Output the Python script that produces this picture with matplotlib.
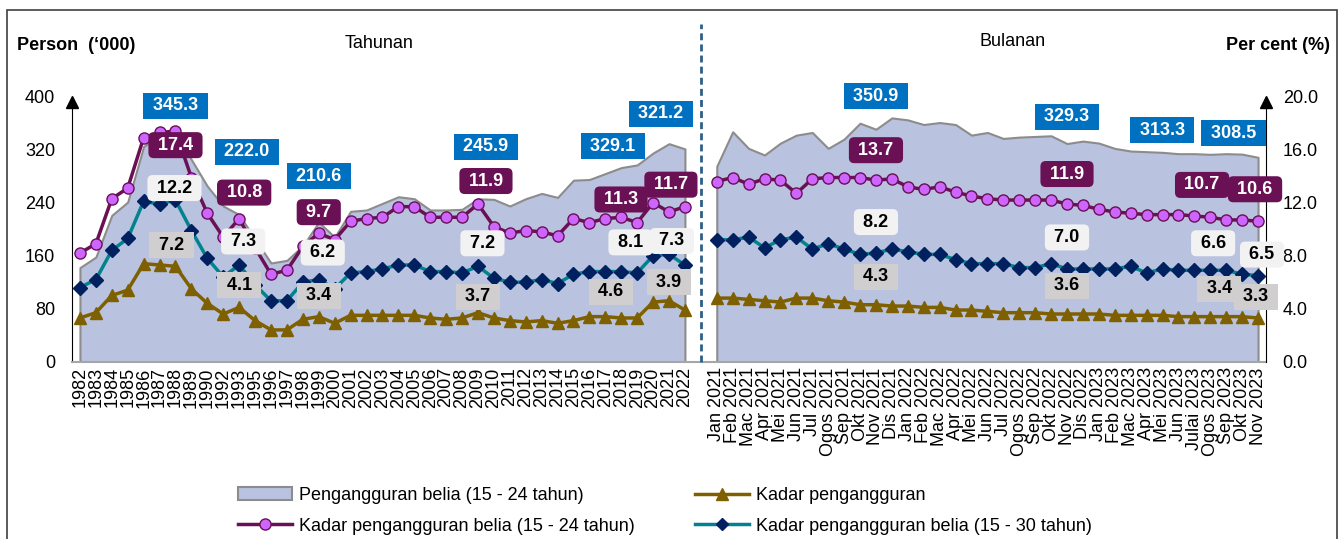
import numpy as np
import matplotlib.pyplot as plt
from matplotlib.lines import Line2D
from matplotlib.patches import Patch, Rectangle
from matplotlib.transforms import blended_transform_factory

plt.rcParams['font.family'] = ['Liberation Sans', 'DejaVu Sans']

# data - tahunan
years = ['1982', '1983', '1984', '1985', '1986', '1987', '1988', '1989', '1990',
         '1992', '1993', '1995', '1996', '1997', '1998', '1999', '2000', '2001',
         '2002', '2003', '2004', '2005', '2006', '2007', '2008', '2009', '2010',
         '2011', '2012', '2013', '2014', '2015', '2016', '2017', '2018', '2019',
         '2020', '2021', '2022']
area_yr = [142, 158, 221, 241, 325, 340, 345.3, 305, 265, 235, 222.0, 185, 149,
           153, 175, 210.6, 188, 227, 229, 239, 249, 246, 229, 229, 230, 245.9,
           245, 235, 246, 254, 248, 274, 275, 284, 293, 297, 315, 329.1, 321.2]
youth_yr = [8.2, 8.9, 12.3, 13.1, 16.9, 17.3, 17.4, 13.9, 11.2, 9.4, 10.8, 8.6,
            6.6, 6.9, 8.7, 9.7, 9.2, 10.6, 10.8, 10.9, 11.7, 11.7, 10.9, 10.9,
            10.9, 11.9, 10.2, 9.7, 9.9, 9.8, 9.5, 10.8, 10.5, 10.8, 10.9, 10.5,
            12.0, 11.3, 11.7]
youth30_yr = [5.6, 6.2, 8.4, 9.3, 12.1, 11.9, 12.2, 9.9, 7.8, 6.4, 7.3, 5.8, 4.6,
              4.6, 6.0, 6.2, 5.5, 6.7, 6.8, 7.0, 7.3, 7.3, 6.8, 6.8, 6.7, 7.2,
              6.3, 6.0, 6.0, 6.2, 5.9, 6.6, 6.8, 6.8, 6.8, 6.7, 8.0, 8.1, 7.3]
unemp_yr = [3.3, 3.7, 5.0, 5.4, 7.4, 7.3, 7.2, 5.5, 4.4, 3.6, 4.1, 3.1, 2.4, 2.4,
            3.2, 3.4, 2.9, 3.5, 3.5, 3.5, 3.5, 3.5, 3.3, 3.2, 3.3, 3.7, 3.3, 3.1,
            3.0, 3.1, 2.9, 3.1, 3.4, 3.4, 3.3, 3.3, 4.5, 4.6, 3.9]

# data - bulanan
months = ['Jan 2021', 'Feb 2021', 'Mac 2021', 'Apr 2021', 'Mei 2021', 'Jun 2021',
          'Jul 2021', 'Ogos 2021', 'Sep 2021', 'Okt 2021', 'Nov 2021', 'Dis 2021',
          'Jan 2022', 'Feb 2022', 'Mac 2022', 'Apr 2022', 'Mei 2022', 'Jun 2022',
          'Jul 2022', 'Ogos 2022', 'Sep 2022', 'Okt 2022', 'Nov 2022', 'Dis 2022',
          'Jan 2023', 'Feb 2023', 'Mac 2023', 'Apr 2023', 'Mei 2023', 'Jun 2023',
          'Julai 2023', 'Ogos 2023', 'Sep 2023', 'Okt 2023', 'Nov 2023']
area_mo = [295, 347, 322, 312, 330, 342, 346, 322, 336, 360, 350.9, 368,
           365, 358, 361, 358, 342, 346, 337, 339, 340, 341, 329.3, 333,
           330, 322, 318, 317, 316, 314, 314, 313, 314, 313.3, 308.5]
youth_mo = [13.6, 13.9, 13.4, 13.8, 13.7, 12.7, 13.8, 13.9, 13.9, 13.9, 13.7, 13.8,
            13.2, 13.0, 13.2, 12.8, 12.5, 12.3, 12.2, 12.2, 12.2, 12.2, 11.9, 11.8,
            11.5, 11.3, 11.2, 11.1, 11.1, 11.1, 11.0, 10.9, 10.7, 10.7, 10.6]
youth30_mo = [9.2, 9.2, 9.4, 8.6, 9.2, 9.4, 8.5, 8.9, 8.5, 8.1, 8.2, 8.5,
              8.3, 8.1, 8.1, 7.7, 7.4, 7.4, 7.4, 7.1, 7.1, 7.4, 7.0, 7.0,
              7.0, 7.0, 7.2, 6.7, 7.0, 6.9, 6.9, 6.9, 6.9, 6.6, 6.5]
unemp_mo = [4.8, 4.8, 4.7, 4.6, 4.5, 4.8, 4.8, 4.6, 4.5, 4.3, 4.3, 4.2,
            4.2, 4.1, 4.1, 3.9, 3.9, 3.8, 3.7, 3.7, 3.7, 3.6, 3.6, 3.6,
            3.6, 3.5, 3.5, 3.5, 3.5, 3.4, 3.4, 3.4, 3.4, 3.4, 3.3]

n1 = len(years)
x_yr = np.arange(n1)
x_mo = np.arange(len(months)) + n1 + 1


def join(a, b):
    return np.concatenate([a, [np.nan], b])


x_all = np.arange(n1 + 1 + len(months))
area_all = join(area_yr, area_mo)
youth_all = join(youth_yr, youth_mo)
youth30_all = join(youth30_yr, youth30_mo)
unemp_all = join(unemp_yr, unemp_mo)

c_area = '#B9C2DF'
c_edge = '#8C8C8C'
c_purple = '#6A1054'
c_pink = '#CC66FF'
c_navy = '#002060'
c_teal = '#00838F'
c_olive = '#7F6000'

W, H = 1340, 539
fig = plt.figure(figsize=(W / 100, H / 100), dpi=100)
ax = fig.add_axes([72 / W, 1 - 361.7 / H, (1266 - 72) / W, (361.7 - 96.7) / H])
ax2 = ax.twinx()

ax.fill_between(x_yr, 0, area_yr, facecolor=c_area, edgecolor=c_edge, lw=1.5, zorder=2)
ax.fill_between(x_mo, 0, area_mo, facecolor=c_area, edgecolor=c_edge, lw=1.5, zorder=2)

ax2.plot(x_all, unemp_all, color=c_olive, lw=2.5, marker='^', ms=8, zorder=3)
ax2.plot(x_all, youth30_all, color=c_teal, lw=2.5, marker='D', ms=7,
         mfc=c_navy, mec=c_navy, zorder=4)
ax2.plot(x_all, youth_all, color=c_purple, lw=2.5, marker='o', ms=8,
         mfc=c_pink, mec=c_purple, mew=1, zorder=5)

ax.set_xlim(-0.5, x_all[-1] + 0.5)
ax.set_ylim(0, 400)
ax2.set_ylim(0, 20)
ax.set_yticks(np.arange(0, 401, 80))
ax2.set_yticks(np.arange(0, 20.1, 4))
ax2.set_yticklabels(['%.1f' % v for v in np.arange(0, 20.1, 4)])
ax.set_xticks(np.concatenate([x_yr, x_mo]))
ax.set_xticklabels(years + months, rotation=90, fontsize=13)
ax.tick_params(axis='x', length=0, pad=4)
ax.tick_params(axis='y', length=0, pad=12, labelsize=13)
ax2.tick_params(axis='y', length=0, pad=12, labelsize=13)

for a in (ax, ax2):
    a.spines['top'].set_visible(False)
ax.spines['right'].set_visible(False)
ax2.spines['left'].set_visible(False)
ax2.spines['bottom'].set_visible(False)
ax.spines['bottom'].set_color('#A6A6A6')
ax.spines['bottom'].set_linewidth(1.5)
ax.spines['left'].set_color('black')
ax2.spines['right'].set_color('black')

# arrows on the y axes
ax.plot(0, 0.981, marker='^', ms=9, color='black', transform=ax.transAxes, clip_on=False)
ax.plot(1, 0.981, marker='^', ms=9, color='black', transform=ax.transAxes, clip_on=False)

# divider
tr = blended_transform_factory(ax.transData, fig.transFigure)
ax.plot([n1, n1], [1 - 361.7 / H, 1 - 24 / H], transform=tr, color='#2E5F8A',
        lw=2, ls=(0, (2.5, 1.5)), clip_on=False, zorder=6)

# value labels (offsets in pixels from the point)
styles = {
    'area': (area_all, ax.transData, '#0070C0', 'white', 'square,pad=0.25'),
    'youth': (youth_all, ax2.transData, '#6A1054', 'white', 'round,pad=0.25,rounding_size=0.3'),
    'youth30': (youth30_all, ax2.transData, '#F2F2F2', 'black', 'round,pad=0.25,rounding_size=0.3'),
    'unemp': (unemp_all, ax2.transData, '#D0CECE', 'black', 'square,pad=0.25'),
}
labels = [
    ('area', 6, 0, -27), ('area', 10, 7.5, -63), ('area', 15, 0, -46), ('area', 25, 8, -52),
    ('area', 37, -56, 2.6), ('area', 38, -24, -35), ('area', 50, 0, -33), ('area', 62, 0, -27),
    ('area', 73, -80, -24), ('area', 74, -24.5, -24),
    ('youth', 6, 0, 14), ('youth', 10, 5, -26), ('youth', 15, 0, -21), ('youth', 25, 8, -23),
    ('youth', 37, -48, -12.5), ('youth', 38, -14, -22), ('youth', 50, 0, -30), ('youth', 62, 0, -30),
    ('youth', 73, -40, -35), ('youth', 74, -3, -32),
    ('youth30', 6, -1, -12), ('youth30', 10, 4, -23.5), ('youth30', 15, 4, -27), ('youth30', 25, 4.5, -23),
    ('youth30', 37, -38.5, -12), ('youth30', 38, -13, -24), ('youth30', 50, 0, -31), ('youth30', 62, 0, -31.5),
    ('youth30', 73, -29, -31), ('youth30', 74, 4, -21),
    ('unemp', 6, -4, -21), ('unemp', 10, 0, -22), ('unemp', 15, 0, -21), ('unemp', 25, 0, -16),
    ('unemp', 37, -58, -9), ('unemp', 38, -16, -28), ('unemp', 50, 0, -28), ('unemp', 62, 0, -28),
    ('unemp', 73, -23, -28), ('unemp', 74, -2, -21),
]
for key, i, dx, dy in labels:
    vals, trans, fc, tc, bs = styles[key]
    ax2.annotate(' %.1f ' % vals[i], xy=(i, vals[i]), xycoords=trans,
                 xytext=(dx * 0.72, -dy * 0.72), textcoords='offset points',
                 ha='center', va='center', fontsize=13, fontweight='bold', color=tc,
                 bbox=dict(boxstyle=bs, fc=fc, ec='none'), zorder=10,
                 annotation_clip=False)

# headers
fig.text(17 / W, 1 - 46 / H, 'Person  (\u2018000)', fontsize=13, fontweight='bold', va='center')
fig.text(379 / W, 1 - 43 / H, 'Tahunan', fontsize=13, ha='center', va='center')
fig.text(1013 / W, 1 - 42 / H, 'Bulanan', fontsize=13, ha='center', va='center')
fig.text(1330 / W, 1 - 46 / H, 'Per cent (%)', fontsize=13, fontweight='bold', ha='right', va='center')

# legend
handles = [
    Patch(facecolor=c_area, edgecolor=c_edge, lw=1.5, label='Pengangguran belia (15 - 24 tahun)'),
    Line2D([], [], color=c_purple, lw=2.5, marker='o', ms=8, mfc=c_pink, mec=c_purple,
           label='Kadar pengangguran belia (15 - 24 tahun)'),
    Line2D([], [], color=c_olive, lw=2.5, marker='^', ms=8, label='Kadar pengangguran'),
    Line2D([], [], color=c_teal, lw=2.5, marker='D', ms=6, mfc=c_navy, mec=c_navy,
           label='Kadar pengangguran belia (15 - 30 tahun)'),
]
fig.legend(handles=handles, ncol=2, loc='upper left', bbox_to_anchor=(238 / W, 1 - 487 / H),
           frameon=False, fontsize=13, handlelength=3.0, handletextpad=0.4,
           columnspacing=3.3, labelspacing=0.75, borderaxespad=0, borderpad=0)

# frame round the figure
fig.patches.append(Rectangle((7 / W, -0.05), (1337 - 7) / W, 1.05 - 10 / H,
                             transform=fig.transFigure, fill=False, ec='#404040', lw=1.2))

fig.savefig('out.png', dpi=100)
